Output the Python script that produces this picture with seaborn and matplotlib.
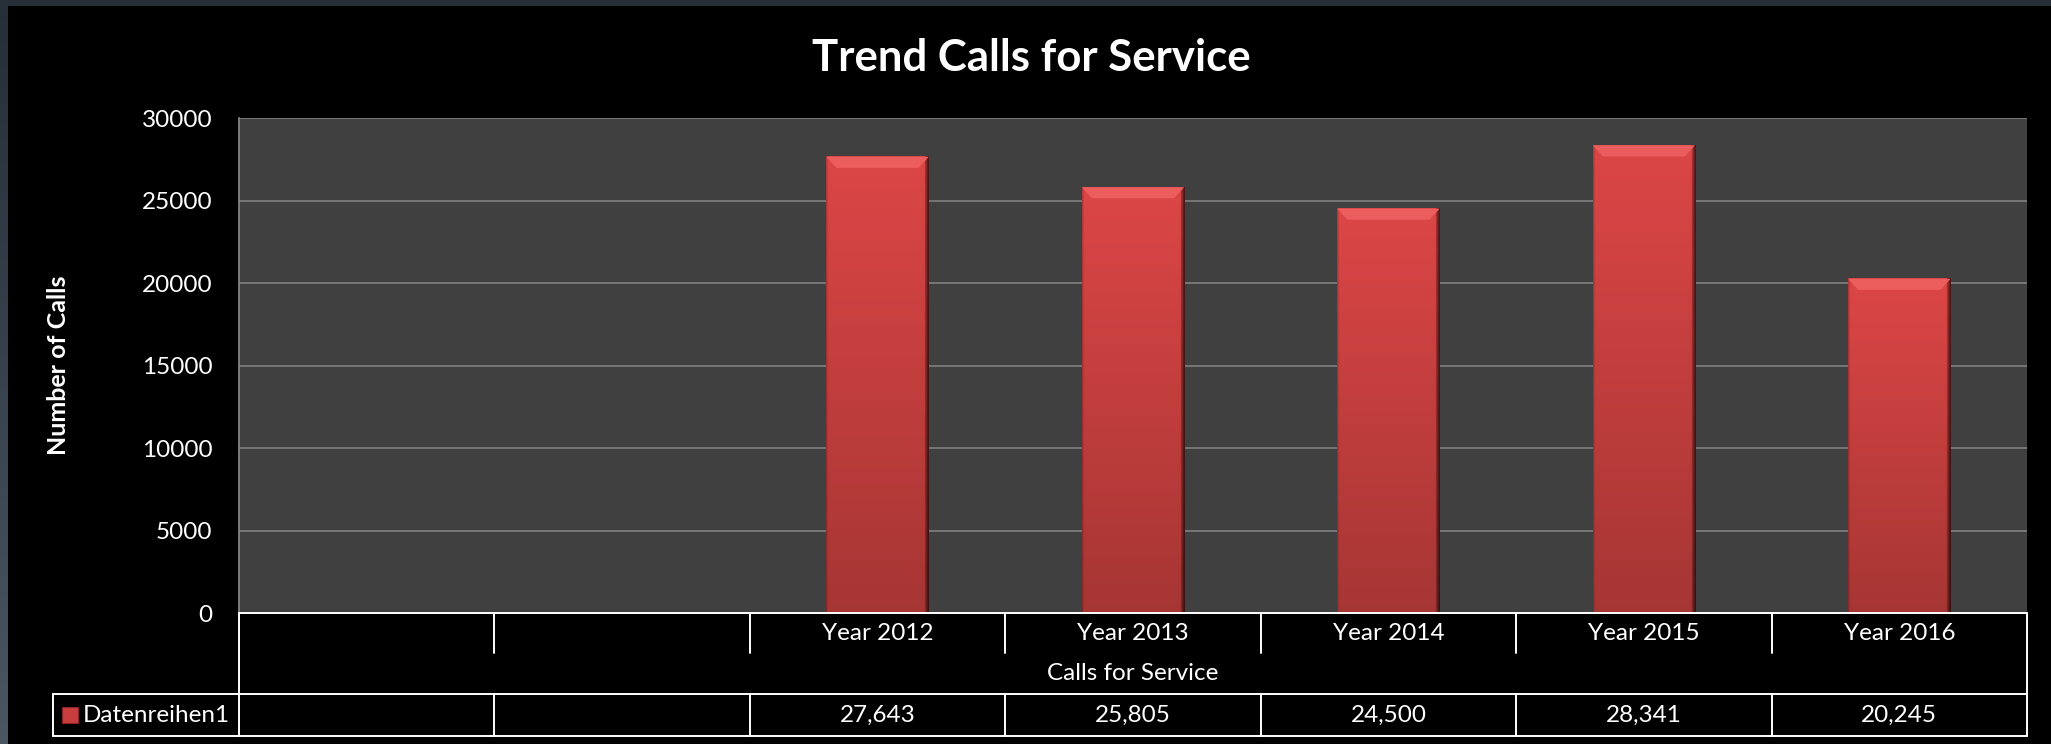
import numpy as np
import pandas as pd
import matplotlib.pyplot as plt
import seaborn as sns
from matplotlib.patches import Rectangle, Polygon
from matplotlib.transforms import blended_transform_factory
import matplotlib as mpl
mpl.use("Agg")

# data (first two category slots are empty in the source)
categories = ["", " ", "Year 2012", "Year 2013", "Year 2014", "Year 2015", "Year 2016"]
calls = [np.nan, np.nan, 27643, 25805, 24500, 28341, 20245]
series_name = "Datenreihen1"
axis_title = "Calls for Service"
y_ticks = [0, 5000, 10000, 15000, 20000, 25000, 30000]

sns.set_theme(style="dark")
plt.rcParams["font.family"] = ["Lato", "DejaVu Sans"]
plt.rcParams["text.color"] = "white"

W, H = 2051, 744
fig = plt.figure(figsize=(W / 100, H / 100), dpi=100)
fig.set_facecolor("black")

# plot area in pixels: x 239..2027, y 118..613
ax_l, ax_t, ax_r, ax_b = 239, 118, 2027, 613
ax = fig.add_axes([ax_l / W, 1 - ax_b / H, (ax_r - ax_l) / W, (ax_b - ax_t) / H])
ax.set_facecolor("#404040")

df = pd.DataFrame({"cat": categories, "calls": calls}).dropna()
sns.barplot(data=df, x="cat", y="calls", order=categories, width=0.4,
            color="#cc4040", saturation=1, edgecolor="none", ax=ax, zorder=3)

ax.set_xlim(-0.5, len(categories) - 0.5)
ax.set_ylim(0, 30000)
ax.set_yticks(y_ticks)
ax.set_yticklabels([str(t) for t in y_ticks])
ax.tick_params(axis="y", length=0, pad=19, labelsize=17.5, labelcolor="white")
ax.tick_params(axis="x", length=0, labelbottom=False)
ax.set_xlabel("")
ax.set_ylabel("")
ax.grid(axis="y", color="#808080", lw=1.2, zorder=1)
ax.grid(axis="x", visible=False)
for s in ["top", "right", "bottom"]:
    ax.spines[s].set_visible(False)
ax.spines["left"].set_color("#8a8a8a")
ax.spines["left"].set_linewidth(1.2)

# bar shading: vertical gradient, dark right edge, light bevel on top
px_per_y = (ax_b - ax_t) / 30000
px_per_x = (ax_r - ax_l) / len(categories)
top_c = np.array([220, 70, 70]) / 255
bot_c = np.array([166, 54, 52]) / 255
ny, nx = 120, 100
t = np.linspace(0, 1, ny)[:, None, None]
img = bot_c * (1 - t) + top_c * t
img = np.repeat(img, nx, axis=1)
hx = np.ones(nx)
hx[-4:] = [0.75, 0.6, 0.45, 0.35]
hx[:2] = [0.8, 0.92]
img = np.clip(img * hx[None, :, None], 0, 1)

for p in list(ax.patches):
    h = p.get_height()
    if not np.isfinite(h) or h <= 0:
        continue
    x0, w = p.get_x(), p.get_width()
    ax.imshow(img, extent=[x0, x0 + w, 0, h], origin="lower", aspect="auto",
              clip_path=p, zorder=4, interpolation="bilinear")
    dy = 11 / px_per_y
    dx = 10 / px_per_x
    ax.add_patch(Polygon([(x0, h), (x0 + w, h), (x0 + w - dx, h - dy), (x0 + dx, h - dy)],
                         closed=True, facecolor="#ec5d5d", edgecolor="none", zorder=5))

ax.set_xlim(-0.5, len(categories) - 0.5)
ax.set_ylim(0, 30000)

ax.text(-(ax_l - 58) / (ax_r - ax_l), 0.5, "Number of Calls", transform=ax.transAxes,
        rotation=90, ha="center", va="center", fontsize=18, fontweight="bold", color="white")

fig.text(1031 / W, 1 - 58 / H, "Trend Calls for Service", ha="center", va="center",
         fontsize=31.5, fontweight="bold", color="white")

# data table below the axis
tr = blended_transform_factory(ax.transData, ax.transAxes)
ph = ax_b - ax_t
y_cat = -40 / ph
y_row = -81 / ph
y_end = -123 / ph
leg_x = -(ax_l - 53) / (ax_r - ax_l)
lw = 1.4
line_kw = dict(color="white", lw=lw, clip_on=False, zorder=6)

ax.plot([-0.5, len(categories) - 0.5], [0, 0], transform=tr, **line_kw)
for b in [-0.5, len(categories) - 0.5]:
    ax.plot([b, b], [0, y_end], transform=tr, **line_kw)
for i in range(len(categories) - 1):
    b = i + 0.5
    ax.plot([b, b], [0, y_cat], transform=tr, **line_kw)
    ax.plot([b, b], [y_row, y_end], transform=tr, **line_kw)
for yy in [y_row, y_end]:
    ax.plot([leg_x, 1], [yy, yy], transform=ax.transAxes, **line_kw)
ax.plot([leg_x, leg_x], [y_row, y_end], transform=ax.transAxes, **line_kw)

for i, (c, v) in enumerate(zip(categories, calls)):
    ax.text(i, y_cat / 2, c.strip(), transform=tr, ha="center", va="center",
            fontsize=17.5, color="white", clip_on=False)
    label = f"{v:,.0f}" if np.isfinite(v) else ""
    ax.text(i, (y_row + y_end) / 2, label, transform=tr, ha="center", va="center",
            fontsize=17.5, color="white", clip_on=False)
ax.text((len(categories) - 1) / 2, (y_cat + y_row) / 2, axis_title, transform=tr,
        ha="center", va="center", fontsize=17.5, color="white", clip_on=False)

# legend key in the first table cell
ax.add_patch(Rectangle((-(ax_l - 62) / (ax_r - ax_l), -(723 - ax_b) / ph),
                       16 / (ax_r - ax_l), 16 / ph, transform=ax.transAxes,
                       facecolor="#c83e3e", edgecolor="#8a2424", lw=0.8, clip_on=False, zorder=6))
ax.text(-(ax_l - 83) / (ax_r - ax_l), (y_row + y_end) / 2, series_name, transform=ax.transAxes,
        ha="left", va="center", fontsize=17.5, color="white", clip_on=False)

# slide frame: dark strip on top, gradient strip on the left
fig.patches.append(Rectangle((0, 1 - 6 / H), 1, 6 / H, transform=fig.transFigure,
                             facecolor="#262e37", edgecolor="none", zorder=0))
bax = fig.add_axes([0, 0, 8 / W, 1])
g = np.linspace(0, 1, 100)[:, None, None]
c_top = np.array([38, 46, 55]) / 255
c_bot = np.array([75, 86, 97]) / 255
bax.imshow(c_top * (1 - g) + c_bot * g, aspect="auto", extent=[0, 1, 0, 1], origin="upper")
bax.axis("off")

fig.savefig("out.png", dpi=100, facecolor="black")
